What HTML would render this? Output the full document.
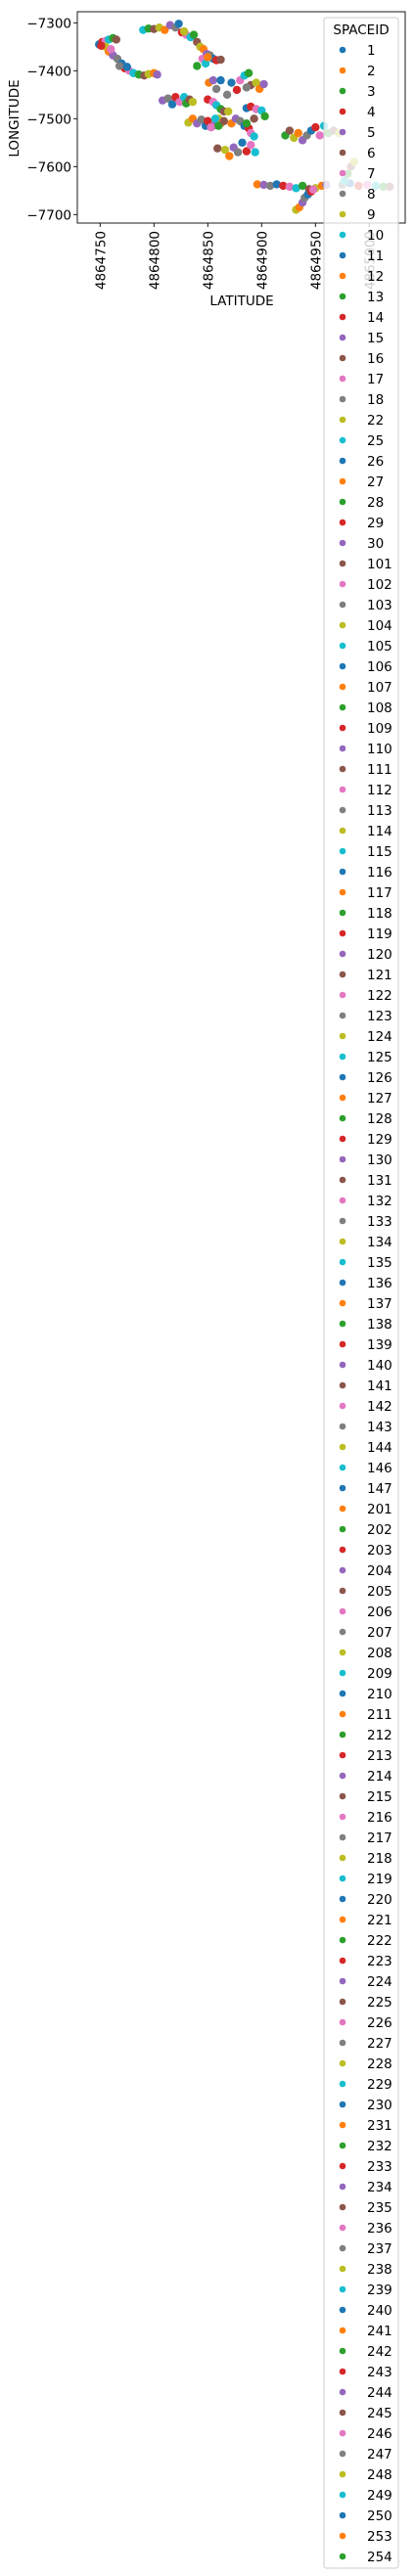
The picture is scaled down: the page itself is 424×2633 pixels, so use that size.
<!DOCTYPE html>
<html><head><meta charset="utf-8"><style>
html,body{margin:0;padding:0;background:#fff;}
svg{display:block;font-family:"DejaVu Sans","Liberation Sans",sans-serif;}
</style></head><body>
<svg id="chart" width="424" height="2633" xmlns="http://www.w3.org/2000/svg">
<g id="points"></g>
<g id="axes"></g>
<g id="legend"></g>
</svg>
<script>
const lats = [4864749,4864752,4864755,4864758,4864762,4864765,4864755,4864758,4864762,4864766,4864770,4864773,4864777,4864781,4864786,4864791,4864795,4864800,4864803,4864768,4864775,4864751,4864760,
4864790,4864795,4864800,4864805,4864810,4864815,4864820,4864823,4864826,4864830,4864834,4864837,4864840,4864843,4864846,4864849,4864852,4864855,4864858,4864845,4864848,4864840,4864862,4864828,4864850,
4864808,4864813,4864817,4864820,4864824,4864828,4864830,4864833,4864836,
4864851,4864855,4864858,4864862,4864850,4864855,4864858,4864862,4864865,4864860,4864862,4864855,
4864868,4864872,4864877,4864880,4864884,4864888,4864890,4864895,4864898,4864902,4864886,
4864886,4864890,4864895,4864900,4864903,4864893,
4864832,4864836,4864840,4864844,4864848,4864850,4864853,4864857,4864860,4864865,
4864869,4864872,4864876,4864880,4864884,4864888,4864890,4864893,4864886,
4864859,4864866,4864870,4864874,4864878,4864882,4864886,4864890,4864894,
4864922,4864926,4864930,4864934,4864938,4864942,4864946,4864950,4864954,4864958,4864962,4864967,4864972,
4864896,4864902,4864908,4864914,4864920,4864926,4864932,4864938,4864944,4864950,4864956,4864960,4864975,4864982,4864990,4864998,4865006,4865013,4865019,
4864932,4864935,4864938,4864940,4864943,4864946,4864948,4864977,4864980,4864983,4864986];
const lons = [-7345,-7340,-7338,-7335,-7332,-7335,-7350,-7360,-7368,-7375,-7385,-7395,-7400,-7405,-7408,-7410,-7407,-7405,-7408,-7390,-7392,-7348,-7355,
-7315,-7312,-7313,-7310,-7315,-7305,-7310,-7302,-7320,-7325,-7330,-7325,-7340,-7350,-7355,-7365,-7368,-7375,-7378,-7375,-7385,-7390,-7377,-7318,-7372,
-7462,-7458,-7470,-7455,-7465,-7455,-7468,-7460,-7465,
-7425,-7420,-7438,-7420,-7460,-7465,-7472,-7480,-7485,-7500,-7510,-7515,
-7450,-7425,-7440,-7420,-7410,-7405,-7430,-7425,-7438,-7428,-7435,
-7478,-7475,-7480,-7483,-7495,-7500,
-7508,-7500,-7510,-7502,-7515,-7505,-7518,-7500,-7515,-7505,
-7485,-7510,-7500,-7505,-7515,-7520,-7530,-7537,-7510,
-7562,-7565,-7578,-7560,-7570,-7550,-7568,-7555,-7570,
-7535,-7525,-7540,-7530,-7545,-7535,-7525,-7518,-7535,-7515,-7530,-7525,-7530,
-7637,-7638,-7640,-7637,-7640,-7642,-7645,-7640,-7647,-7645,-7640,-7638,-7638,-7635,-7640,-7638,-7640,-7642,-7642,
-7690,-7685,-7675,-7665,-7658,-7652,-7648,-7630,-7615,-7600,-7590];
const legendIds = ["1","2","3","4","5","6","7","8","9","10","11","12","13","14","15","16","17","18","22","25","26","27","28","29","30",
"101","102","103","104","105","106","107","108","109","110","111","112","113","114","115","116","117","118","119","120","121","122","123","124","125","126","127","128","129","130","131","132","133","134","135","136","137","138","139","140","141","142","143","144","146","147",
"201","202","203","204","205","206","207","208","209","210","211","212","213","214","215","216","217","218","219","220","221","222","223","224","225","226","227","228","229","230","231","232","233","234","235","236","237","238","239","240","241","242","243","244","245","246","247","248","249","250","253","254"];
const xTicks = [4864750,4864800,4864850,4864900,4864950,4865000];
const yTicks = [-7300,-7400,-7500,-7600,-7700];

const NS="http://www.w3.org/2000/svg";
const pal=["#1f77b4","#ff7f0e","#2ca02c","#d62728","#9467bd","#8c564b","#e377c2","#7f7f7f","#bcbd22","#17becf"];
const L=79,R=414,T=12,B=228;
const xs=v=>102.3+(v-4864750)*1.1;
const ys=v=>23.3+(-7300-v)*0.49;
function mk(tag,attrs,parent){const e=document.createElementNS(NS,tag);for(const k in attrs)e.setAttribute(k,attrs[k]);parent.appendChild(e);return e;}
const gp=document.getElementById('points'),ga=document.getElementById('axes'),gl=document.getElementById('legend');
lats.forEach((la,i)=>{
  const c=mk('circle',{cx:xs(la),cy:ys(lons[i]),r:4.2,fill:pal[(i*3)%10]},gp);
  
  
});
const frame=mk('rect',{x:L,y:T,width:R-L,height:B-T,fill:'none',stroke:'#000','stroke-width':0.9},ga);


xTicks.forEach(v=>{
  const x=xs(v);
  mk('line',{x1:x,y1:B,x2:x,y2:B+4,stroke:'#000','stroke-width':0.9},ga);
  const t=mk('text',{x:0,y:0,'font-size':13.5,'text-anchor':'end',transform:`translate(${x+5},${B+8}) rotate(-90)`},ga);
  t.textContent=v;
  
  
});
yTicks.forEach(v=>{
  const y=ys(v);
  mk('line',{x1:L-4,y1:y,x2:L,y2:y,stroke:'#000','stroke-width':0.9},ga);
  const t=mk('text',{x:L-6,y:y+5,'font-size':13.5,'text-anchor':'end'},ga);
  t.textContent='\u2212'+Math.abs(v);
  
  
});
const xt=mk('text',{x:247,y:312,'font-size':13.5,'text-anchor':'middle'},ga);
xt.textContent='LATITUDE';


const yt=mk('text',{x:0,y:0,'font-size':13.5,'text-anchor':'middle',transform:'translate(19,121) rotate(-90)'},ga);
yt.textContent='LONGITUDE';


const box=mk('rect',{x:331,y:18,width:76,height:2607,rx:2.5,fill:'rgba(255,255,255,0.8)',stroke:'#ccc','stroke-width':1},gl);


const lt=mk('text',{x:369,y:35,'font-size':13.5,'text-anchor':'middle'},gl);
lt.textContent='SPACEID';


legendIds.forEach((id,i)=>{
  const y=51+i*21;
  const g=mk('g',{},gl);
  
  
  mk('circle',{cx:350,cy:y,r:3.3,fill:pal[i%10]},g);
  const t=mk('text',{x:375,y:y+5,'font-size':13.5},g);
  t.textContent=id;
});
</script>
</body></html>
